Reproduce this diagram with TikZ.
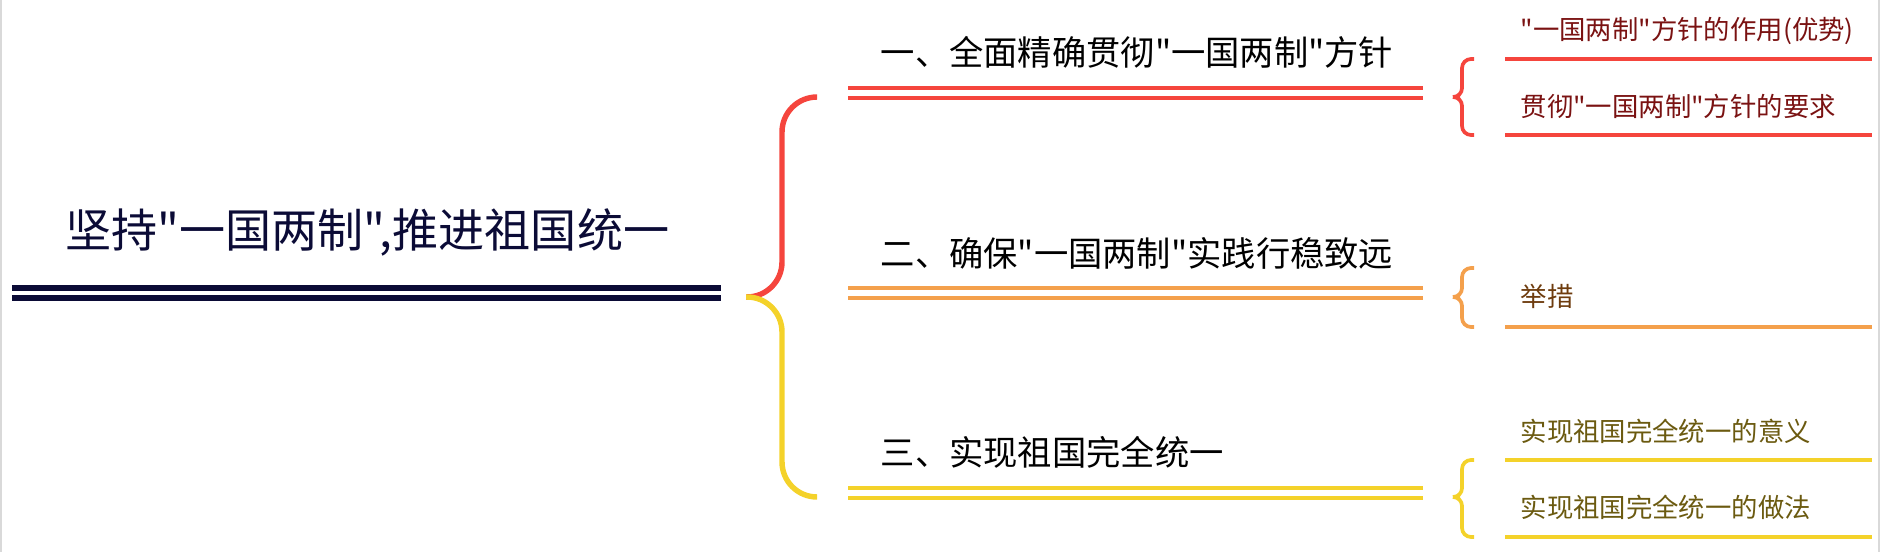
\documentclass[tikz,border=0pt]{standalone}
\usepackage{fontspec}
\setmainfont{Noto Sans CJK SC}[Ligatures=TeXOff]
\usetikzlibrary{positioning, calc}
\definecolor{rootnavy}{HTML}{0B0B36}
\definecolor{brred}{HTML}{F5453D}
\definecolor{brorange}{HTML}{F4A04C}
\definecolor{bryellow}{HTML}{F4D22A}
\definecolor{txtred}{HTML}{7A1212}
\definecolor{txtorange}{HTML}{6E3C0E}
\definecolor{txtyellow}{HTML}{6B5A10}

\begin{document}
\begin{tikzpicture}[% one unit = one pixel of the map
         x = 0.01cm, y = -0.01cm,
root/.style = {anchor=west, inner sep=0pt, text=rootnavy,
               font=\fontsize{13.1}{16}\selectfont},
branch/.style = {anchor=west, inner sep=0pt, text=black,
                 font=\fontsize{9.75}{12}\selectfont},
leaf/.style = {anchor=west, inner sep=0pt,
               font=\fontsize{7.5}{9}\selectfont},
rootline/.style = {rootnavy, line width=1.7pt},
twin/.style = {line width=1.15pt},
underline/.style = {line width=1.05pt},
bigbrace/.style = {line width=1.55pt, rounded corners=0.35cm},
smallbrace/.style = {line width=1.05pt, rounded corners=0.09cm}
                    ]
	\useasboundingbox (0,0) rectangle (1883,552);
	\draw[black!15] (1,0) -- (1,552);
	\draw[black!15] (1879,0) -- (1879,552);

	% root topic
	\node[root] (root) at (65,232) {坚持"一国两制",推进祖国统一};
	\coordinate (rootL) at (12,288);
	\coordinate (rootR) at (721,288);
	\draw[rootline] (rootL) -- (rootR);
	\draw[rootline] ($(rootL)+(0,10)$) -- ($(rootR)+(0,10)$);

	% big brace
	\coordinate (tip) at (746,297);
	\coordinate (b1) at (817,97);
	\coordinate (b3) at (817,497);
	\draw[bigbrace, brred] (b1) -- (782,97) -- (782,297) -- (tip);
	\draw[bigbrace, bryellow] (tip) -- (782,297) -- (782,497) -- (b3);

	% branch titles with double lines
	\node[branch] (br1) at (880,52)  {一、全面精确贯彻"一国两制"方针};
	\node[branch] (br2) at (880,253) {二、确保"一国两制"实践行稳致远};
	\node[branch] (br3) at (880,452) {三、实现祖国完全统一};
	\foreach \n/\y/\c in {1/88/brred, 2/288/brorange, 3/488/bryellow}
	{
	\coordinate (l\n) at (848,\y);
	\coordinate (r\n) at (1423,\y);
	\draw[twin, \c] (l\n) -- (r\n);
	\draw[twin, \c] ($(l\n)+(0,10)$) -- ($(r\n)+(0,10)$);
	}

	% small braces
	\draw[smallbrace, brred] (1474,59) -- (1462,59) -- (1462,97) -- (1451,97)
	                        -- (1462,97) -- (1462,135) -- (1474,135);
	\draw[smallbrace, brorange] (1474,268) -- (1462,268) -- (1462,297) -- (1451,297)
	                        -- (1462,297) -- (1462,327) -- (1474,327);
	\draw[smallbrace, bryellow] (1474,460) -- (1462,460) -- (1462,497) -- (1451,497)
	                        -- (1462,497) -- (1462,537) -- (1474,537);

	% sub topics
	\node[leaf, text=txtred] (s11) at (1520,31)  {"一国两制"方针的作用(优势)};
	\node[leaf, text=txtred] (s12) at (1520,106) {贯彻"一国两制"方针的要求};
	\node[leaf, text=txtorange] (s21) at (1520,296) {举措};
	\node[leaf, text=txtyellow] (s31) at (1520,431) {实现祖国完全统一的意义};
	\node[leaf, text=txtyellow] (s32) at (1520,507) {实现祖国完全统一的做法};
	\draw[underline, brred] (1505,59) -- (1872,59);
	\draw[underline, brred] (1505,135) -- (1872,135);
	\draw[underline, brorange] (1505,327) -- (1872,327);
	\draw[underline, bryellow] (1505,460) -- (1872,460);
	\draw[underline, bryellow] (1505,537) -- (1872,537);
\end{tikzpicture}
\end{document}
